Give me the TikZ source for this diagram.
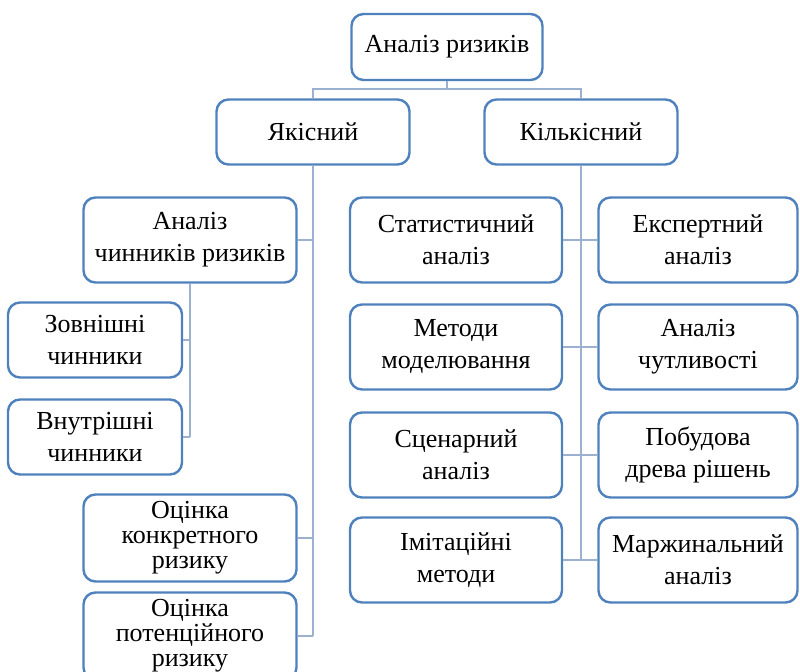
\documentclass[tikz,border=0pt]{standalone}
\usepackage{fontspec}
\setmainfont{Liberation Serif}
\usetikzlibrary{positioning}
\definecolor{BoxBlue}{HTML}{4F81BD}
\definecolor{LinkBlue}{HTML}{9BB1CF}

\begin{document}
\begin{tikzpicture}[x=0.5pt,y=-0.5pt,
  box/.style={draw=BoxBlue,line width=1.2pt,rounded corners=6pt,fill=white,
    align=center,inner sep=0pt,font=\fontsize{13}{16}\selectfont},
  tallbox/.style={box,font=\fontsize{13}{12.5}\selectfont},
  link/.style={draw=LinkBlue,line width=0.6pt}]
  \useasboundingbox (0,0) rectangle (800,672);
  % top levels
  \node[box,minimum width=95.5pt,minimum height=33pt] (root) at (447,47) {Аналіз ризиків};
  \node[box,minimum width=96.5pt,minimum height=32.5pt] (yak) at (313,132) {Якісний};
  \node[box,minimum width=96.5pt,minimum height=32.5pt] (kil) at (581,132) {Кількісний};
  % qualitative branch
  \node[box,minimum width=106.5pt,minimum height=42.5pt] (factors) at (190,240) {Аналіз\\чинників ризиків};
  \node[box,minimum width=87pt,minimum height=37.5pt] (outer) at (95,340) {Зовнішні\\чинники};
  \node[box,minimum width=87pt,minimum height=37.5pt] (inner) at (95,437) {Внутрішні\\чинники};
  \node[tallbox,minimum width=106.5pt,minimum height=43.5pt] (concrete) at (190,538) {Оцінка\\конкретного\\ризику};
  \node[tallbox,minimum width=106.5pt,minimum height=43.5pt] (potential) at (190,636) {Оцінка\\потенційного\\ризику};
  % quantitative branch
  \node[box,minimum width=106pt,minimum height=42.5pt] (stat) at (456,240) {Статистичний\\аналіз};
  \node[box,minimum width=99.5pt,minimum height=42.5pt] (expert) at (698,240) {Експертний\\аналіз};
  \node[box,minimum width=106pt,minimum height=42.5pt] (model) at (456,347) {Методи\\моделювання};
  \node[box,minimum width=99.5pt,minimum height=42.5pt] (sens) at (698,347) {Аналіз\\чутливості};
  \node[box,minimum width=106pt,minimum height=42.5pt] (scen) at (456,455) {Сценарний\\аналіз};
  \node[box,minimum width=99.5pt,minimum height=42.5pt] (tree) at (698,455) {Побудова\\древа рішень};
  \node[box,minimum width=106pt,minimum height=42.5pt] (imit) at (456,560) {Імітаційні\\методи};
  \node[box,minimum width=99.5pt,minimum height=42.5pt] (marg) at (698,560) {Маржинальний\\аналіз};
  % connectors
  \coordinate (fork) at (447,89);
  \draw[link] (root.south) -- (fork) (yak.north) |- (fork) -| (kil.north);
  \draw[link] (yak.south) -- (yak.south |- potential.east);
  \foreach \n in {factors,concrete,potential}
    \draw[link] (\n.east) -- (\n.east -| yak.south);
  \draw[link] (factors.south) -- (factors.south |- inner.east);
  \foreach \n in {outer,inner}
    \draw[link] (\n.east) -- (\n.east -| factors.south);
  \draw[link] (kil.south) -- (kil.south |- imit.east);
  \foreach \l/\r in {stat/expert,model/sens,scen/tree,imit/marg}
    \draw[link] (\l.east) -- (\r.west);
\end{tikzpicture}
\end{document}
